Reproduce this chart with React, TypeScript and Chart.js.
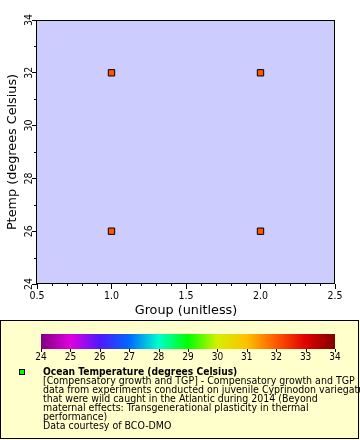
import React, { useEffect, useRef } from 'react';
import { Chart, registerables } from 'chart.js';

Chart.register(...registerables);

// ---- data ----
const groups = [1, 1, 2, 2];
const temps = [32, 26, 32, 26];
const pointColor = '#ff5500';

const xMin = 0.5;
const xMax = 2.5;
const xStep = 0.5;
const xMinorStep = 0.1;
const yMin = 24;
const yMax = 34;
const yStep = 2;
const yMinorStep = 1;

const xTitle = 'Group (unitless)';
const yTitle = 'Ptemp (degrees Celsius)';

const colorbarTicks = [24, 25, 26, 27, 28, 29, 30, 31, 32, 33, 34];
const colorbarColors = [
  '#800080', '#e000e0', '#5018ff', '#0068ff', '#00ffcc', '#00ff00',
  '#d4f000', '#ffc000', '#ff5800', '#e00000', '#800000',
];

const legendMarkerColor = '#00ff00';
const legendTitle = 'Ocean Temperature (degrees Celsius)';
const legendLines = [
  '[Compensatory growth and TGP] - Compensatory growth and TGP',
  'data from experiments conducted on juvenile Cyprinodon variegatus',
  'that were wild caught in the Atlantic during 2014 (Beyond',
  'maternal effects: Transgenerational plasticity in thermal',
  'performance)',
  'Data courtesy of BCO-DMO',
];

const COND = "'DejaVu Sans Condensed', 'DejaVu Sans', sans-serif";
const REG = "'DejaVu Sans', sans-serif";

const decorPlugin = {
  id: 'decor',
  beforeDraw(chart: any) {
    const { ctx, chartArea } = chart;
    ctx.save();
    ctx.fillStyle = '#ffffff';
    ctx.fillRect(0, 0, chart.width, chart.height);
    ctx.fillStyle = '#ccccff';
    ctx.fillRect(chartArea.left, chartArea.top, chartArea.right - chartArea.left, chartArea.bottom - chartArea.top);
    ctx.restore();
  },
  afterDraw(chart: any) {
    const { ctx, chartArea } = chart;
    const xs = chart.scales.x;
    const ys = chart.scales.y;
    ctx.save();
    ctx.strokeStyle = '#000';
    ctx.lineWidth = 1;
    // frame
    ctx.strokeRect(
      Math.round(chartArea.left) - 0.5,
      Math.round(chartArea.top) + 0.5,
      Math.round(chartArea.right - chartArea.left),
      Math.round(chartArea.bottom - chartArea.top) - 1
    );
    // minor ticks
    ctx.beginPath();
    const nx = Math.round((xMax - xMin) / xMinorStep);
    for (let i = 0; i <= nx; i++) {
      const v = xMin + i * xMinorStep;
      if (i % Math.round(xStep / xMinorStep) === 0) continue;
      const px = Math.round(xs.getPixelForValue(v)) + 0.5;
      ctx.moveTo(px, chartArea.bottom);
      ctx.lineTo(px, chartArea.bottom + 2);
    }
    const ny = Math.round((yMax - yMin) / yMinorStep);
    for (let i = 0; i <= ny; i++) {
      const v = yMin + i * yMinorStep;
      if (i % Math.round(yStep / yMinorStep) === 0) continue;
      const py = Math.round(ys.getPixelForValue(v)) + 0.5;
      ctx.moveTo(chartArea.left, py);
      ctx.lineTo(chartArea.left - 3, py);
    }
    ctx.stroke();

    // legend box
    const boxTop = 320;
    ctx.fillStyle = '#ffffcc';
    ctx.fillRect(0, boxTop, chart.width, chart.height - boxTop);
    ctx.strokeStyle = '#000';
    ctx.strokeRect(0.5, boxTop + 0.5, chart.width - 2, chart.height - boxTop - 2);

    // colorbar
    const cbL = 41, cbR = 335, cbT = 334, cbB = 349;
    const grad = ctx.createLinearGradient(cbL, 0, cbR, 0);
    const n = colorbarTicks.length - 1;
    colorbarColors.forEach((c, i) => grad.addColorStop(i / n, c));
    ctx.fillStyle = grad;
    ctx.fillRect(cbL, cbT, cbR - cbL, cbB - cbT);
    ctx.fillStyle = '#000';
    ctx.font = `10px ${COND}`;
    ctx.textAlign = 'center';
    ctx.textBaseline = 'middle';
    ctx.beginPath();
    colorbarTicks.forEach((t, i) => {
      const px = cbL + ((cbR - cbL) * i) / n;
      ctx.moveTo(Math.round(px) + 0.5, cbB);
      ctx.lineTo(Math.round(px) + 0.5, cbB + 3);
      ctx.fillText(String(t), px, 357);
    });
    ctx.stroke();

    // legend marker
    ctx.fillStyle = legendMarkerColor;
    ctx.fillRect(19, 369, 6, 6);
    ctx.strokeRect(19.5, 369.5, 5, 5);

    // legend text
    ctx.fillStyle = '#000';
    ctx.textAlign = 'left';
    ctx.textBaseline = 'middle';
    ctx.font = `bold 10.2px ${COND}`;
    ctx.fillText(legendTitle, 43, 372);
    ctx.font = `10.5px ${COND}`;
    legendLines.forEach((line, i) => {
      ctx.fillText(line, 43, 381 + i * 9);
    });
    ctx.restore();
  },
};

export default function App() {
  const ref = useRef<HTMLCanvasElement | null>(null);
  useEffect(() => {
    document.body.style.margin = '0';
    const canvas = ref.current!;
    const chart = new Chart(canvas, {
      type: 'scatter',
      data: {
        datasets: [
          {
            data: groups.map((g, i) => ({ x: g, y: temps[i] })),
            backgroundColor: pointColor,
            borderColor: '#000',
            borderWidth: 1,
            pointStyle: 'rect',
            pointRadius: 4.5,
            pointHoverRadius: 4.5,
          },
        ],
      },
      options: {
        responsive: false,
        animation: false,
        devicePixelRatio: 1,
        layout: { padding: { top: 20, right: 25, left: 0, bottom: 120 } },
        plugins: { legend: { display: false }, tooltip: { enabled: false } },
        scales: {
          x: {
            type: 'linear',
            min: xMin,
            max: xMax,
            afterFit: (s: any) => { s.height = 36; },
            border: { display: false },
            grid: { drawOnChartArea: false, drawTicks: true, tickLength: 5, color: '#000' },
            ticks: { stepSize: xStep, color: '#000', padding: 1, maxRotation: 0, font: { family: COND, size: 10.5 } },
            title: { display: true, text: xTitle, color: '#000', padding: { top: 0, bottom: 2 }, font: { family: REG, size: 12.8 } },
          },
          y: {
            type: 'linear',
            min: yMin,
            max: yMax,
            afterFit: (s: any) => { s.width = 37; },
            border: { display: false },
            grid: { drawOnChartArea: false, drawTicks: true, tickLength: 5, color: '#000' },
            ticks: { stepSize: yStep, color: '#000', padding: -3, minRotation: 90, maxRotation: 90, crossAlign: 'center', font: { family: COND, size: 10.5 } },
            title: { display: true, text: yTitle, color: '#000', padding: { top: 5, bottom: 0 }, font: { family: REG, size: 12.8 } },
          },
        },
      },
      plugins: [decorPlugin],
    } as any);
    return () => chart.destroy();
  }, []);
  return (
    <div style={{ width: 360, height: 440 }}>
      <canvas ref={ref} width={360} height={440} style={{ display: 'block' }} />
    </div>
  );
}
